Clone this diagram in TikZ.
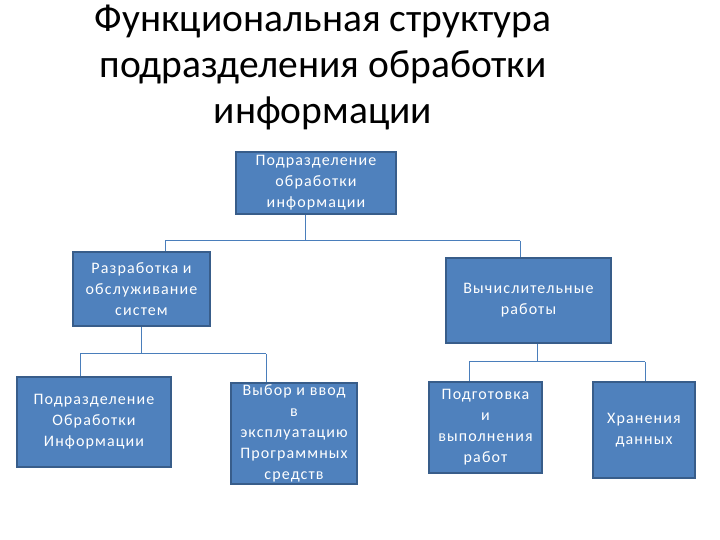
\documentclass[tikz,border=0pt]{standalone}
\usepackage{fontspec}
\setmainfont{Carlito}
\usetikzlibrary{positioning}
\definecolor{boxfill}{HTML}{4F81BD}
\definecolor{boxline}{HTML}{385D8A}
\definecolor{linkcol}{HTML}{4A7EBB}

\begin{document}
\begin{tikzpicture}[
						x=1pt, y=-1pt,
						unit/.style = {draw=boxline, fill=boxfill, line width=1.5pt, text=white, align=center, inner sep=0pt, font=\fontsize{16}{21}\selectfont\addfontfeature{LetterSpace=7}},
						link/.style = {draw=linkcol, line width=0.8pt},
						heading/.style = {align=center, font=\fontsize{39.5}{46}\selectfont}
					]
\useasboundingbox (0,0) rectangle (720,540);
\node[heading] (title) at (323,67) {Функциональная структура\\подразделения обработки\\информации};

\node[unit, minimum width=160pt, minimum height=62pt] (head) at (316,183) {Подразделение\\обработки\\информации};
\node[unit, minimum width=137pt, minimum height=74pt] (dev) at (141.5,289) {Разработка и\\обслуживание\\систем};
\node[unit, minimum width=165pt, minimum height=85pt] (comp) at (528.5,300.5) {Вычислительные\\работы};
\node[unit, minimum width=154pt, minimum height=90pt] (proc) at (94,422) {Подразделение\\Обработки\\Информации};
\node[unit, minimum width=126pt, minimum height=101pt] (soft) at (294,433.5) {Выбор и ввод\\в\\эксплуатацию\\Программных\\средств};
\node[unit, minimum width=113pt, minimum height=91pt] (prep) at (485.5,427.5) {Подготовка\\и\\выполнения\\работ};
\node[unit, minimum width=102pt, minimum height=96pt] (store) at (644,430) {Хранения\\данных};

% attachment points
\coordinate (headout) at ([xshift=-11pt]head.south);
\coordinate (devin) at ([xshift=23.5pt]dev.north);
\coordinate (compin) at ([xshift=-8.5pt]comp.north);
\coordinate (compout) at ([xshift=8.5pt]comp.south);
\coordinate (procin) at ([xshift=-14pt]proc.north);
\coordinate (softin) at ([xshift=-28pt]soft.north);
\coordinate (prepin) at ([xshift=-16.5pt]prep.north);
\coordinate (storein) at ([xshift=1pt]store.north);

\draw[link] (headout) -- ++(0,26) coordinate (b1);
\draw[link] (b1 -| devin) -- (b1 -| compin);
\draw[link] (b1 -| devin) -- (devin);
\draw[link] (b1 -| compin) -- (compin);

\draw[link] (dev.south) -- ++(0,27) coordinate (b2);
\draw[link] (b2 -| procin) -- (b2 -| softin);
\draw[link] (b2 -| procin) -- (procin);
\draw[link] (b2 -| softin) -- (softin);

\draw[link] (compout) -- ++(0,18) coordinate (b3);
\draw[link] (b3 -| prepin) -- (b3 -| storein);
\draw[link] (b3 -| prepin) -- (prepin);
\draw[link] (b3 -| storein) -- (storein);
\end{tikzpicture}
\end{document}
